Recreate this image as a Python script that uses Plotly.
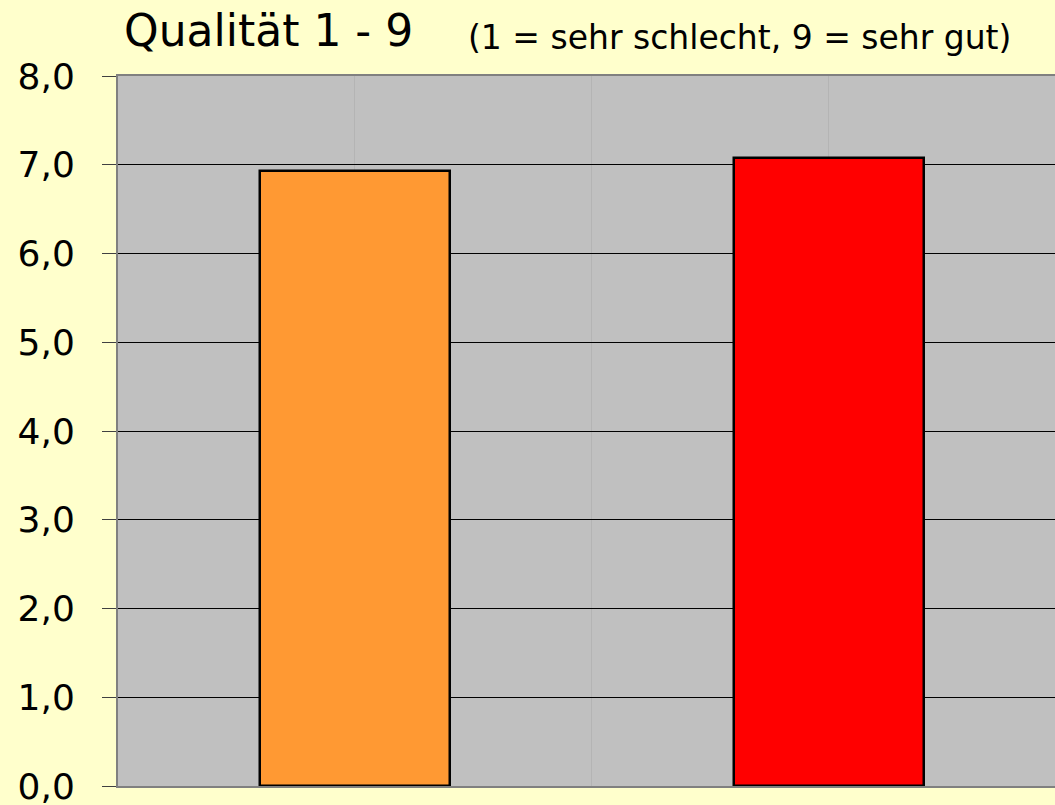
import plotly.graph_objects as go

categories = ["Produkt A", "Produkt B"]
values = [6.93, 7.08]
colors = ["#FF9933", "#FF0000"]
y_ticks = [0, 1, 2, 3, 4, 5, 6, 7, 8]
title_main = "Qualität 1 - 9"
title_sub = "(1 = sehr schlecht, 9 = sehr gut)"

x_pos = [i + 0.5 for i in range(len(categories))]

fig = go.Figure()
fig.add_trace(go.Bar(
    x=x_pos, y=values, width=0.4,
    marker=dict(color=colors, line=dict(color="black", width=2.5)),
    hovertext=categories, showlegend=False,
))

fig.update_layout(
    width=1055, height=805,
    paper_bgcolor="#FFFFCC", plot_bgcolor="#C0C0C0",
    margin=dict(l=118, r=0, t=76, b=19),
    separators=",.",
    font=dict(family="DejaVu Sans, sans-serif", color="black"),
    bargap=0,
)
fig.update_xaxes(
    range=[0, 1.977], tickmode="array", tickvals=[0.5, 1.0, 1.5],
    showticklabels=False, showgrid=True, gridcolor="#B4B4B4", gridwidth=1,
    zeroline=False, showline=True, linecolor="#808080", linewidth=2, mirror=True,
    ticks="", automargin=False,
)
fig.update_yaxes(
    range=[0, 8], tickmode="array", tickvals=y_ticks,
    tickformat=".1f", tickfont=dict(size=36),
    showgrid=True, gridcolor="black", gridwidth=1,
    zeroline=False, showline=True, linecolor="#808080", linewidth=2,
    ticks="outside", ticklen=14, tickcolor="#404040", tickwidth=1,
    ticklabelstandoff=20, ticklabeloverflow="allow", automargin=False,
)
fig.add_annotation(
    xref="paper", yref="paper", x=0.0, y=1.0, xanchor="left", yanchor="bottom",
    yshift=18, xshift=4,
    text=title_main, showarrow=False, font=dict(size=44),
)
fig.add_annotation(
    xref="paper", yref="paper", x=0.3715, y=1.0, xanchor="left", yanchor="bottom",
    yshift=17,
    text=title_sub, showarrow=False, font=dict(size=33),
)
fig.write_html("out.html", config={"displayModeBar": False},
               post_script="document.body.style.margin='0';")
